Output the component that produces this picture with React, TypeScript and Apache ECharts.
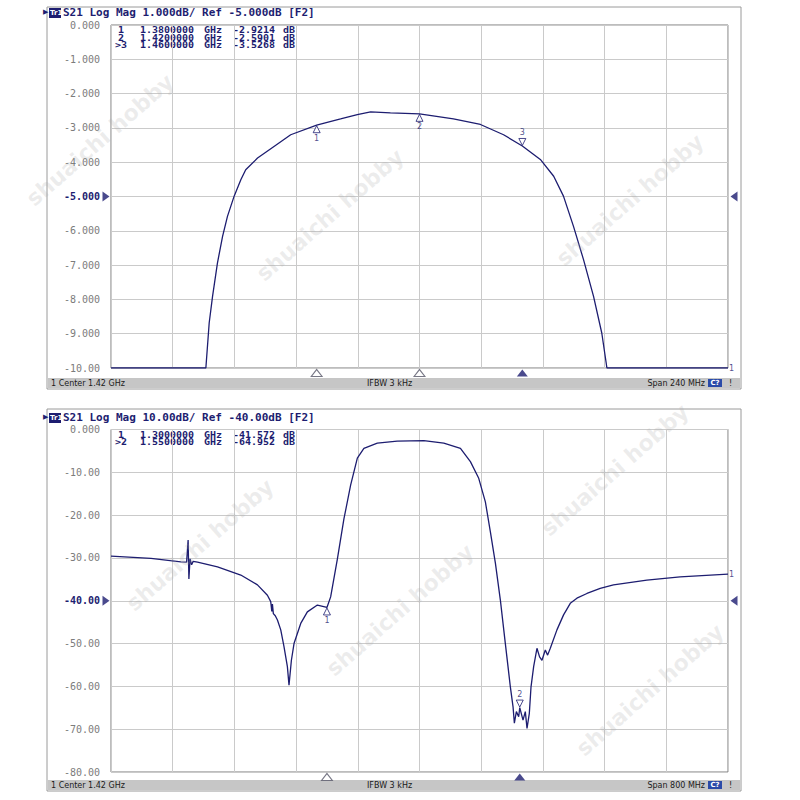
import React, { useEffect, useRef } from "react";
import * as echarts from "echarts";

// ---------- data ----------
const topCenterGHz = 1.42;
const topSpanMHz = 240;
const topFreqGHz = [1.30, 1.3369, 1.3382, 1.3395, 1.3414, 1.3434, 1.3453, 1.3479, 1.3505, 1.3524, 1.3570, 1.3634, 1.3699, 1.38, 1.3893, 1.3958, 1.4010, 1.4087, 1.42, 1.4332, 1.4437, 1.4527, 1.46, 1.4670, 1.4722, 1.4760, 1.4799, 1.4838, 1.4877, 1.4909, 1.4929, 1.54];
const topDb = [-10, -10, -8.68, -7.91, -6.94, -6.16, -5.58, -4.99, -4.51, -4.22, -3.88, -3.54, -3.20, -2.9214, -2.74, -2.61, -2.53, -2.56, -2.5901, -2.74, -2.90, -3.20, -3.5268, -3.92, -4.41, -4.99, -5.87, -6.84, -7.91, -8.98, -10, -10];
const topMarkerNo = ["1", "2", ">3"];
const topMarkerFreq = [1.38, 1.42, 1.46];
const topMarkerDb = [-2.9214, -2.5901, -3.5268];
const topRef = -5;

const botCenterGHz = 1.42;
const botSpanMHz = 800;
const botFreqGHz = [1.02, 1.0718, 1.1106, 1.1180, 1.1200, 1.1210, 1.1225, 1.1245, 1.1265, 1.1322, 1.1581, 1.1883, 1.2099, 1.2228, 1.2271, 1.2285, 1.2293, 1.2305, 1.2330, 1.2358, 1.2401, 1.2443, 1.2487, 1.2508, 1.2539, 1.2573, 1.2660, 1.2746, 1.2876, 1.30, 1.3048, 1.3135, 1.3220, 1.3307, 1.3394, 1.3479, 1.3653, 1.3911, 1.4256, 1.4515, 1.4731, 1.4860, 1.4968, 1.5054, 1.5119, 1.5184, 1.5249, 1.5313, 1.5378, 1.5413, 1.5430, 1.5456, 1.5486, 1.55, 1.5542, 1.5572, 1.5594, 1.5624, 1.5646, 1.5680, 1.5723, 1.5757, 1.5788, 1.5831, 1.5861, 1.5896, 1.5982, 1.6068, 1.6155, 1.6241, 1.6371, 1.6543, 1.6715, 1.7148, 1.7579, 1.82];
const botDb = [-29.6, -30.1, -30.9, -31.0, -25.8, -34.9, -30.2, -31.6, -30.8, -31.0, -32.1, -34.0, -36.3, -38.7, -40.2, -42.5, -40.8, -43.0, -43.5, -44.5, -46.8, -50.7, -55.4, -59.7, -53.9, -50.0, -45.3, -42.6, -41.0, -41.572, -39.1, -30.3, -20.9, -13.0, -6.7, -4.4, -3.2, -2.7, -2.6, -3.2, -4.4, -7.5, -11.4, -16.9, -23.9, -31.2, -39.9, -50.0, -60.1, -64.8, -68.6, -65.9, -67.1, -64.952, -67.9, -65.9, -69.8, -66.3, -60.1, -55.4, -51.1, -53.1, -53.9, -51.5, -52.7, -51.1, -46.8, -43.3, -40.6, -39.4, -38.3, -37.1, -36.3, -35.2, -34.4, -33.8];
const botMarkerNo = ["1", ">2"];
const botMarkerFreq = [1.30, 1.55];
const botMarkerDb = [-41.572, -64.952];
const botRef = -40;

const topHeader = "S21 Log Mag 1.000dB/ Ref -5.000dB [F2]";
const botHeader = "S21 Log Mag 10.00dB/ Ref -40.00dB [F2]";
const topMarkerText = [
  ["1", "1.3800000", "GHz", "-2.9214", "dB"],
  ["2", "1.4200000", "GHz", "-2.5901", "dB"],
  [">3", "1.4600000", "GHz", "-3.5268", "dB"],
];
const botMarkerText = [
  ["1", "1.3000000", "GHz", "-41.572", "dB"],
  [">2", "1.5500000", "GHz", "-64.952", "dB"],
];
const topFooter = ["1 Center 1.42 GHz", "IFBW 3 kHz", "Span 240 MHz"];
const botFooter = ["1 Center 1.42 GHz", "IFBW 3 kHz", "Span 800 MHz"];

// ---------- styles ----------
const NAVY = "#1d1d70";
const GRAYTXT = "#7c7c7c";
const MONO = "DejaVu Sans Mono";

const fmtTop = (v: number) => (v === 0 ? "0.000" : Math.abs(v) >= 10 ? v.toFixed(2) : v.toFixed(3));
const fmtBot = (v: number) => (v === 0 ? "0.000" : v.toFixed(2));

function headerGraphics(y: number, text: string) {
  return [
    { type: "text", left: 43, top: y - 5, style: { text: "▶", fill: NAVY, font: "7px DejaVu Sans" } },
    { type: "rect", shape: { x: 49, y: y - 5, width: 12, height: 10 }, style: { fill: NAVY } },
    { type: "text", x: 50, y: y - 4, style: { text: "Tr1", fill: "#ffffff", font: "bold 7px DejaVu Sans" } },
    { type: "text", x: 63, y: y - 6, style: { text, fill: NAVY, font: `bold 11px ${MONO}` } },
  ];
}

function markerTable(y0: number, rows: string[][]) {
  const xs = [115, 140, 204, 233, 283];
  const out: any[] = [];
  rows.forEach((r, i) => {
    r.forEach((t, j) => {
      out.push({
        type: "text",
        x: j === 0 && t.length === 1 ? xs[0] + 3 : xs[j],
        y: y0 + i * 7.6,
        scaleX: 1.25,
        style: { text: t, fill: NAVY, font: `bold 8px ${MONO}`, textVerticalAlign: "middle" },
      });
    });
  });
  return out;
}

function footer(y: number, texts: string[]) {
  return [
    { type: "rect", shape: { x: 48, y, width: 692, height: 10 }, style: { fill: "#c6c6c6" } },
    { type: "text", x: 51, y: y + 5, style: { text: texts[0], fill: "#1a1a1a", font: "8px DejaVu Sans", textVerticalAlign: "middle" } },
    { type: "text", x: 367, y: y + 5, style: { text: texts[1], fill: "#1a1a1a", font: "8px DejaVu Sans", textVerticalAlign: "middle" } },
    { type: "text", x: 705, y: y + 5, style: { text: texts[2], fill: "#1a1a1a", font: "8px DejaVu Sans", textAlign: "right", textVerticalAlign: "middle" } },
    { type: "rect", shape: { x: 708, y: y + 1, width: 14, height: 8 }, style: { fill: "#2a4aa8" } },
    { type: "text", x: 715, y: y + 5, style: { text: "C?", fill: "#ffffff", font: "bold 7px DejaVu Sans", textAlign: "center", textVerticalAlign: "middle" } },
    { type: "text", x: 729, y: y + 5, style: { text: "!", fill: "#1a1a1a", font: "8px DejaVu Sans", textVerticalAlign: "middle" } },
  ];
}

function watermark(x: number, y: number) {
  return {
    type: "text",
    x,
    y,
    rotation: 0.72,
    z: 50,
    silent: true,
    style: {
      text: "shuaichi hobby",
      fill: "rgba(170,170,170,0.22)",
      font: "bold 22px DejaVu Sans",
      textAlign: "center",
      textVerticalAlign: "middle",
    },
  };
}

export default function App() {
  const ref = useRef<HTMLDivElement>(null);
  useEffect(() => {
    if (!ref.current) return;
    const chart = echarts.init(ref.current, null, { renderer: "svg" });

    const topData = topFreqGHz.map((f, i) => [(f - topCenterGHz) * 1000, topDb[i]]);
    const botData = botFreqGHz.map((f, i) => [(f - botCenterGHz) * 1000, botDb[i]]);

    const mkYAxis = (idx: number, min: number, interval: number, refV: number, fmt: (v: number) => string) => ({
      type: "value",
      gridIndex: idx,
      min,
      max: 0,
      interval,
      axisLine: { show: false },
      axisTick: { show: false },
      splitLine: { lineStyle: { color: "#cacaca", width: 1 } },
      axisLabel: {
        margin: 11,
        fontFamily: MONO,
        fontSize: 10,
        color: GRAYTXT,
        formatter: (v: number) => (v === refV ? `{r|${fmt(v)}}` : fmt(v)),
        rich: { r: { fontFamily: MONO, fontSize: 10, fontWeight: "bold", color: NAVY } },
      },
    });
    const mkXAxis = (idx: number, span: number) => ({
      type: "value",
      gridIndex: idx,
      min: -span / 2,
      max: span / 2,
      interval: span / 10,
      axisLine: { show: false },
      axisTick: { show: false },
      axisLabel: { show: false },
      splitLine: { lineStyle: { color: "#cacaca", width: 1 } },
    });

    const markerSeries = (idx: number, nos: string[], fr: number[], db: number[], center: number) =>
      nos.map((n, i) => {
        const active = n.startsWith(">");
        const num = n.replace(">", "");
        return {
          type: "scatter",
          xAxisIndex: idx,
          yAxisIndex: idx,
          z: 5,
          data: [[(fr[i] - center) * 1000, db[i]]],
          symbol: "triangle",
          symbolSize: [7, 7],
          symbolRotate: active ? 180 : 0,
          symbolOffset: [0, active ? -4 : 4],
          itemStyle: { color: "#ffffff", borderColor: NAVY, borderWidth: 1 },
          label: {
            show: true,
            formatter: num,
            position: active ? "top" : "bottom",
            distance: 1,
            fontSize: 8,
            fontFamily: "DejaVu Sans",
            color: NAVY,
          },
        };
      });

    const axisMarkers = (idx: number, nos: string[], fr: number[], center: number, yMin: number) =>
      nos.map((n, i) => {
        const active = n.startsWith(">");
        return {
          type: "scatter",
          xAxisIndex: idx,
          yAxisIndex: idx,
          clip: false,
          data: [[(fr[i] - center) * 1000, yMin]],
          symbol: "triangle",
          symbolSize: [11, 7],
          symbolOffset: [0, 5],
          itemStyle: active
            ? { color: NAVY }
            : { color: "#ffffff", borderColor: "#555566", borderWidth: 1 },
        };
      });

    const refArrows = (idx: number, span: number, refV: number) => [
      {
        type: "scatter",
        xAxisIndex: idx,
        yAxisIndex: idx,
        clip: false,
        data: [[-span / 2, refV]],
        symbol: "triangle",
        symbolSize: [10, 7],
        symbolRotate: -90,
        symbolOffset: [-5, 0],
        itemStyle: { color: NAVY },
      },
      {
        type: "scatter",
        xAxisIndex: idx,
        yAxisIndex: idx,
        clip: false,
        data: [[span / 2, refV]],
        symbol: "triangle",
        symbolSize: [10, 7],
        symbolRotate: 90,
        symbolOffset: [6, 0],
        itemStyle: { color: NAVY },
      },
    ];

    const traceEnd = (idx: number, pt: number[]) => ({
      type: "scatter",
      xAxisIndex: idx,
      yAxisIndex: idx,
      clip: false,
      data: [pt],
      symbolSize: 0,
      label: { show: true, formatter: "1", position: "right", distance: 1, fontSize: 8, color: NAVY, fontFamily: "DejaVu Sans" },
    });

    chart.setOption({
      animation: false,
      backgroundColor: "#ffffff",
      grid: [
        { left: 111, top: 25, width: 617, height: 343, show: true, borderColor: "#7a7a7a", borderWidth: 1, backgroundColor: "#ffffff" },
        { left: 111, top: 429.5, width: 617, height: 342.5, show: true, borderColor: "#7a7a7a", borderWidth: 1, backgroundColor: "#ffffff" },
      ],
      xAxis: [mkXAxis(0, topSpanMHz), mkXAxis(1, botSpanMHz)],
      yAxis: [mkYAxis(0, -10, 1, topRef, fmtTop), mkYAxis(1, -80, 10, botRef, fmtBot)],
      series: [
        {
          type: "line",
          xAxisIndex: 0,
          yAxisIndex: 0,
          data: topData,
          symbol: "none",
          lineStyle: { color: NAVY, width: 1.3 },
          z: 4,
        },
        {
          type: "line",
          xAxisIndex: 1,
          yAxisIndex: 1,
          data: botData,
          symbol: "none",
          lineStyle: { color: NAVY, width: 1.3 },
          z: 4,
        },
        ...markerSeries(0, topMarkerNo, topMarkerFreq, topMarkerDb, topCenterGHz),
        ...markerSeries(1, botMarkerNo, botMarkerFreq, botMarkerDb, botCenterGHz),
        ...axisMarkers(0, topMarkerNo, topMarkerFreq, topCenterGHz, -10),
        ...axisMarkers(1, botMarkerNo, botMarkerFreq, botCenterGHz, -80),
        ...refArrows(0, topSpanMHz, topRef),
        ...refArrows(1, botSpanMHz, botRef),
        traceEnd(0, topData[topData.length - 1]),
        traceEnd(1, botData[botData.length - 1]),
      ],
      graphic: [
        { type: "rect", z: -10, shape: { x: 47, y: 7, width: 694, height: 382 }, style: { fill: "#ffffff", stroke: "#9a9a9a", lineWidth: 1 } },
        { type: "rect", z: -10, shape: { x: 47, y: 409, width: 694, height: 382 }, style: { fill: "#ffffff", stroke: "#9a9a9a", lineWidth: 1 } },
        ...headerGraphics(13, topHeader),
        ...headerGraphics(418, botHeader),
        ...markerTable(30.5, topMarkerText),
        ...markerTable(435, botMarkerText),
        ...footer(378, topFooter),
        ...footer(780, botFooter),
        watermark(100, 140),
        watermark(330, 215),
        watermark(630, 200),
        watermark(200, 545),
        watermark(400, 610),
        watermark(615, 470),
        watermark(650, 690),
      ],
    });
    return () => chart.dispose();
  }, []);
  return <div ref={ref} style={{ position: "absolute", left: 0, top: 0, width: 800, height: 800 }} />;
}
